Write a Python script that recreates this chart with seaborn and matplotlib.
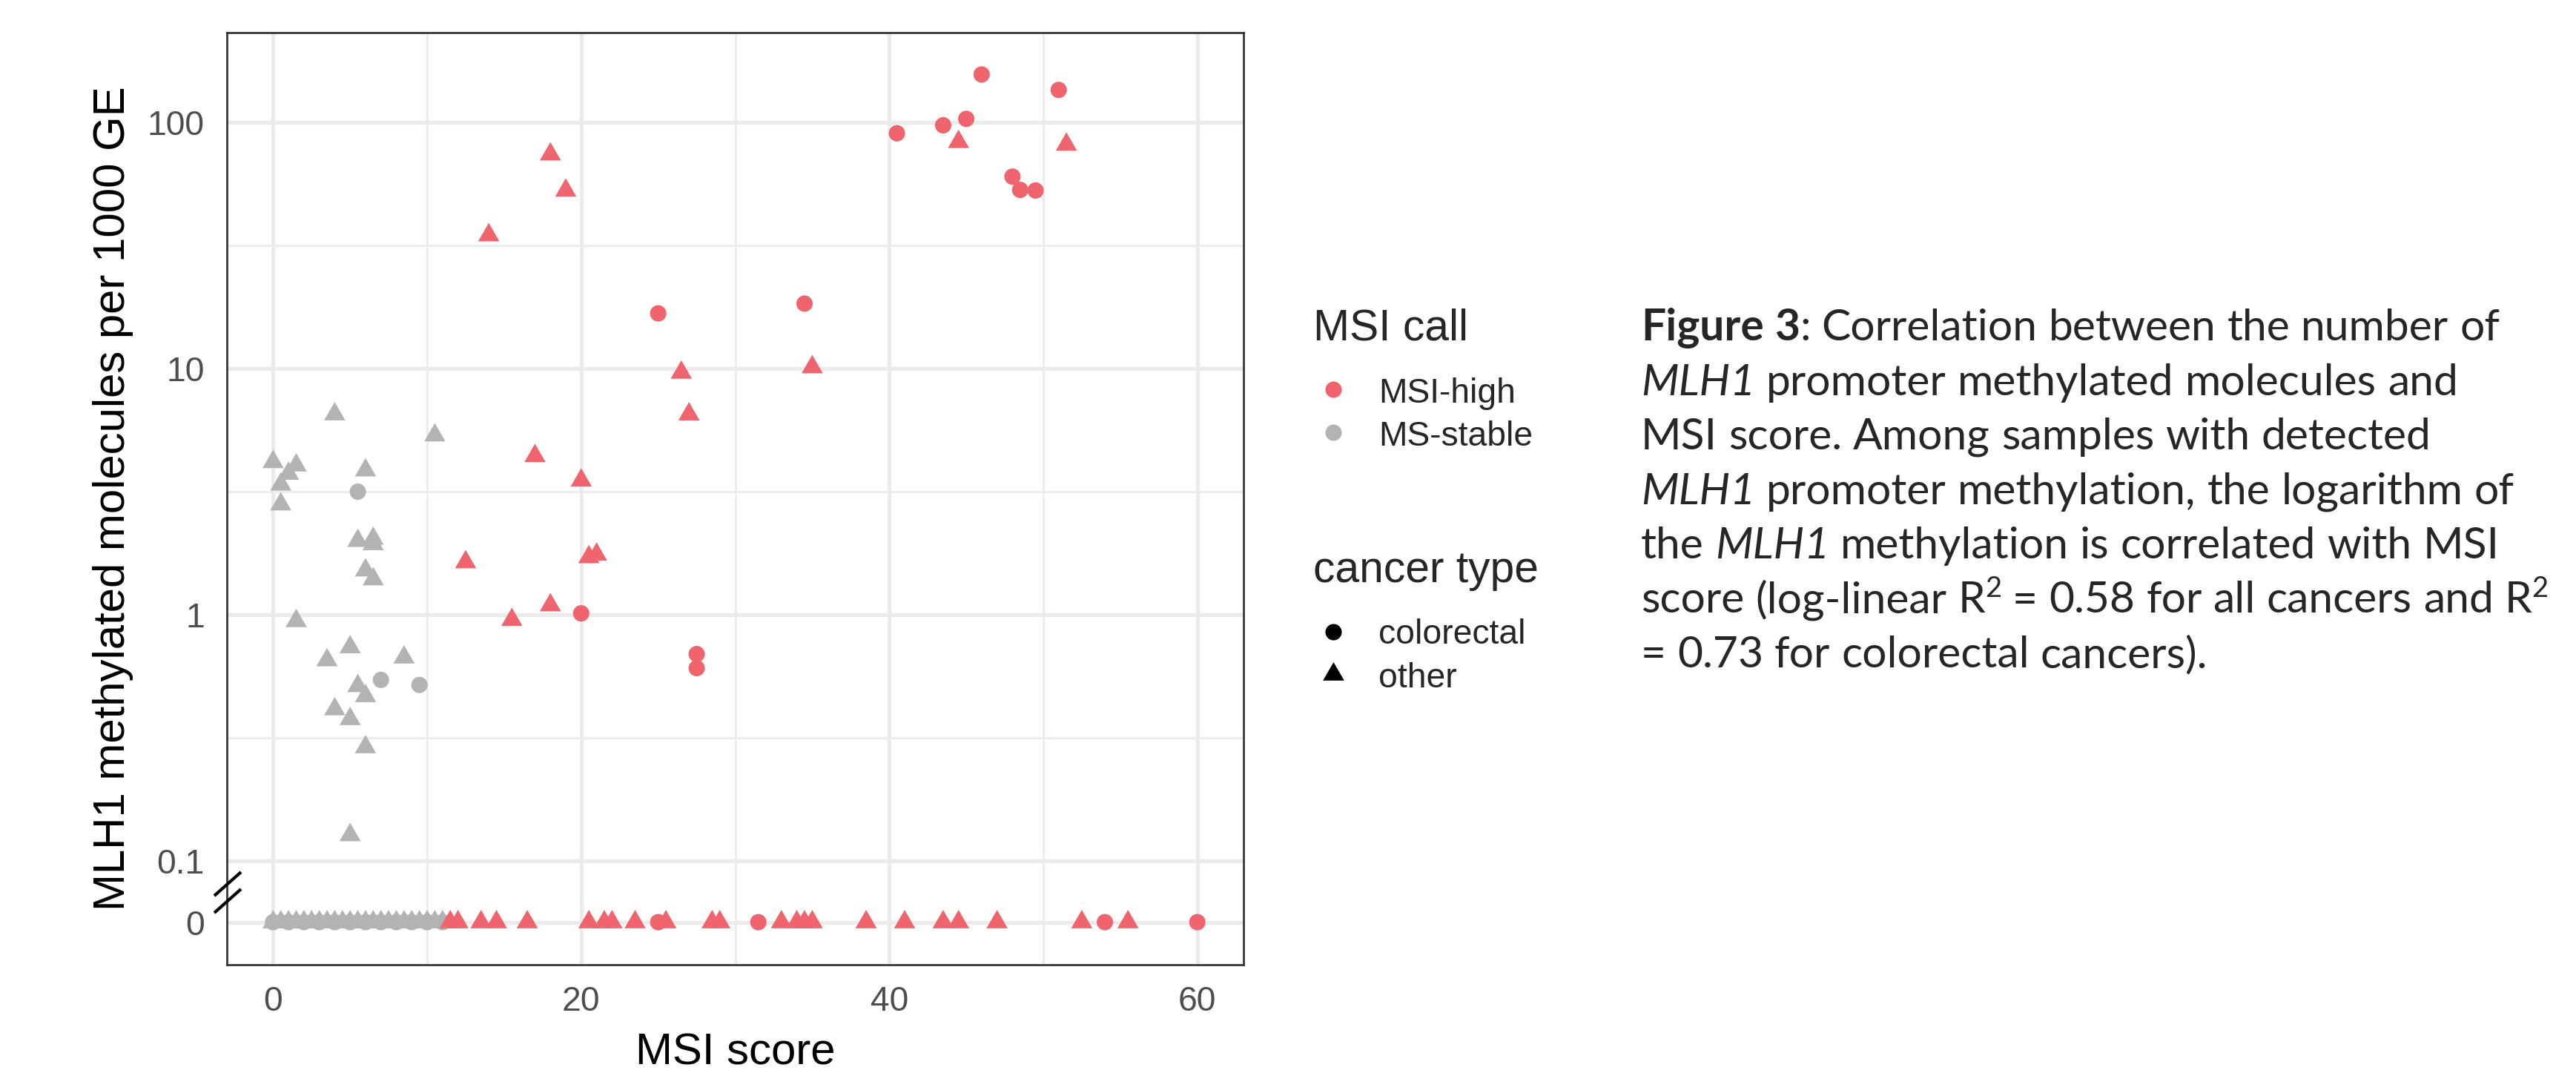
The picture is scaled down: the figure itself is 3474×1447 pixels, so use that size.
import numpy as np
import pandas as pd
import matplotlib
matplotlib.use("Agg")
import matplotlib.pyplot as plt
from matplotlib.path import Path
from matplotlib.lines import Line2D
from matplotlib.ticker import FixedLocator, NullFormatter
import seaborn as sns

# ------------------------------------------------------------------ data
# MSI-high samples
hi_crc_msi = [25.0, 20.0, 27.5, 27.5, 46.0, 51.0, 45.0, 43.5, 40.5, 48.0, 48.5, 49.5, 34.5]
hi_crc_meth = [16.7, 1.01, 0.69, 0.605, 156, 135, 103, 97, 90, 60, 53, 52.7, 18.3]
hi_oth_msi = [18.0, 19.0, 14.0, 26.5, 27.0, 17.0, 20.0, 12.5, 20.5, 21.0, 18.0, 15.5, 44.5, 51.5, 35.0]
hi_oth_meth = [73.9, 52.7, 34.7, 9.6, 6.5, 4.4, 3.5, 1.63, 1.71, 1.75, 1.09, 0.95, 83, 81, 10.1]
hi_crc_msi_zero = [25.0, 31.5, 54.0, 60.0]
hi_oth_msi_zero = [11.5, 12.0, 13.5, 14.5, 16.5, 20.5, 21.5, 22.0, 23.5, 25.5, 28.5, 29.0,
                   33.0, 34.0, 34.5, 35.0, 38.5, 41.0, 43.5, 44.5, 47.0, 52.5, 55.5]
# MS-stable samples
ms_crc_msi = [5.5, 7.0, 9.5]
ms_crc_meth = [3.15, 0.542, 0.517]
ms_oth_msi = [4.0, 10.5, 0.0, 1.5, 1.0, 6.0, 0.5, 0.5, 5.5, 6.5, 6.5, 6.0, 6.5, 1.5, 5.0, 3.5,
              8.5, 5.5, 6.0, 4.0, 5.0, 6.0, 5.0]
ms_oth_meth = [6.5, 5.34, 4.16, 4.03, 3.73, 3.85, 3.37, 2.80, 1.99, 2.03, 1.93, 1.51, 1.39, 0.94,
               0.736, 0.652, 0.669, 0.512, 0.466, 0.412, 0.376, 0.289, 0.127]
ms_crc_msi_zero = [0.0, 1.0, 2.0, 3.0, 4.0, 5.0, 6.0, 7.0, 8.0, 9.0, 10.0, 11.0]
ms_oth_msi_zero = [0.0, 0.5, 1.0, 1.5, 2.0, 2.5, 3.0, 3.5, 4.0, 4.5, 5.0, 5.5, 6.0, 6.5, 7.0,
                   7.5, 8.0, 8.5, 9.0, 9.5, 10.0, 10.5, 11.0]

calls = ["MSI-high", "MS-stable"]
ctypes = ["colorectal", "other"]
y_tick_values = [0, 0.1, 1, 10, 100]
y_tick_labels = ["0", "0.1", "1", "10", "100"]
x_tick_values = [0, 20, 40, 60]


def block(msi, meth, call, ctype):
    return pd.DataFrame({"msi": msi, "meth": meth, "call": call, "ctype": ctype})


df = pd.concat([
    block(ms_oth_msi_zero, [0] * len(ms_oth_msi_zero), "MS-stable", "other"),
    block(ms_crc_msi_zero, [0] * len(ms_crc_msi_zero), "MS-stable", "colorectal"),
    block(ms_oth_msi, ms_oth_meth, "MS-stable", "other"),
    block(ms_crc_msi, ms_crc_meth, "MS-stable", "colorectal"),
    block(hi_oth_msi_zero, [0] * len(hi_oth_msi_zero), "MSI-high", "other"),
    block(hi_crc_msi_zero, [0] * len(hi_crc_msi_zero), "MSI-high", "colorectal"),
    block(hi_oth_msi, hi_oth_meth, "MSI-high", "other"),
    block(hi_crc_msi, hi_crc_meth, "MSI-high", "colorectal"),
], ignore_index=True)

# zero values sit below the log range, behind an axis break
ZERO_POS = 10 ** -1.25
df["y_plot"] = np.where(df["meth"] > 0, df["meth"], ZERO_POS)

# ------------------------------------------------------------------ style
sns.set_style("white")
plt.rcParams["font.family"] = ["Liberation Sans", "DejaVu Sans"]

RED = "#EF646D"
GREY = "#B3B3B3"
palette = {"MSI-high": RED, "MS-stable": GREY}
TRI = Path([(0, 1), (-0.866, -0.5), (0.866, -0.5), (0, 1)],
           [Path.MOVETO, Path.LINETO, Path.LINETO, Path.CLOSEPOLY])
markers = {"colorectal": "o", "other": TRI}
sizes = {"colorectal": 28, "other": 63}

W, H, DPI = 3474, 1447, 300
fig = plt.figure(figsize=(W / DPI, H / DPI), dpi=DPI)
fig.patch.set_facecolor("white")

PL, PR, PT, PB = 306, 1677, 44, 1301
ax = fig.add_axes([PL / W, 1 - PB / H, (PR - PL) / W, (PB - PT) / H])

sns.scatterplot(data=df, x="msi", y="y_plot", hue="call", style="ctype", size="ctype",
                hue_order=calls, style_order=ctypes, size_order=ctypes,
                palette=palette, markers=markers, sizes=sizes,
                linewidth=0, edgecolor="none", alpha=1, legend=False, ax=ax, zorder=3)

ax.set_yscale("log")
ax.set_xlim(-3, 63)
ax.set_ylim(10 ** -1.423, 10 ** 2.363)

ytick_pos = [ZERO_POS if v == 0 else v for v in y_tick_values]
ax.yaxis.set_major_locator(FixedLocator(ytick_pos))
ax.set_yticklabels(y_tick_labels)
ax.yaxis.set_minor_locator(FixedLocator([10 ** -0.5, 10 ** 0.5, 10 ** 1.5]))
ax.yaxis.set_minor_formatter(NullFormatter())
ax.xaxis.set_major_locator(FixedLocator(x_tick_values))
ax.xaxis.set_minor_locator(FixedLocator([10, 30, 50]))
ax.set_xticklabels([str(v) for v in x_tick_values])

ax.set_axisbelow(True)
ax.grid(which="major", color="#EBEBEB", linewidth=1.25)
ax.grid(which="minor", color="#EBEBEB", linewidth=0.65)
for s in ax.spines.values():
    s.set_color("#333333")
    s.set_linewidth(0.65)
ax.tick_params(which="minor", length=0)
ax.tick_params(which="major", direction="out", length=3.84, width=1.2, color="#333333",
               labelsize=11.1, labelcolor="#4D4D4D")
ax.tick_params(axis="x", which="major", pad=2.9)
ax.tick_params(axis="y", which="major", pad=3.4)

ax.set_xlabel("MSI score", fontsize=14.4, color="black")
ax.xaxis.label.set_va("baseline")
ax.xaxis.set_label_coords(0.5, (PB - 1435) / (PB - PT))
ax.set_ylabel("MLH1 methylated molecules per 1000 GE", fontsize=14.4, color="black",
              rotation=90, rotation_mode="anchor", va="baseline", ha="center")
ax.yaxis.set_label_coords((168 - PL) / (PR - PL), 0.5)

# axis break marks
def px2ax(xp, yp):
    return (xp - PL) / (PR - PL), 1 - (yp - PT) / (PB - PT)

for (x0, y0, x1, y1) in [(289, 1208, 325, 1176), (289, 1231, 325, 1199)]:
    a0 = px2ax(x0, y0)
    a1 = px2ax(x1, y1)
    ax.plot([a0[0], a1[0]], [a0[1], a1[1]], transform=ax.transAxes, color="black",
            lw=1.0, clip_on=False, zorder=5, solid_capstyle="butt")

# ------------------------------------------------------------------ legend
def fx(xp):
    return xp / W


def fy(yp):
    return 1 - yp / H


fig.text(fx(1771), fy(459), "MSI call", fontsize=14.1, va="baseline", ha="left")
for yk, yt, lab in [(525, 543, "MSI-high"), (583, 601, "MS-stable")]:
    fig.add_artist(Line2D([fx(1798)], [fy(yk)], transform=fig.transFigure, marker="o",
                          markersize=5.28, markerfacecolor=palette[lab], markeredgewidth=0,
                          linestyle="none"))
    fig.text(fx(1859), fy(yt), lab, fontsize=11.1, va="baseline", ha="left")

fig.text(fx(1771), fy(785), "cancer type", fontsize=14.1, va="baseline", ha="left")
for yk, yt, lab in [(852, 868, "colorectal"), (909, 927, "other")]:
    fig.add_artist(Line2D([fx(1798)], [fy(yk)], transform=fig.transFigure,
                          marker=markers[lab], markersize=np.sqrt(sizes[lab]),
                          markerfacecolor="black", markeredgewidth=0, linestyle="none"))
    fig.text(fx(1859), fy(yt), lab, fontsize=11.1, va="baseline", ha="left")

# ------------------------------------------------------------------ caption
CAPTION = [
    [("Figure 3", "bold"), (": Correlation between the number of", "normal")],
    [("MLH1", "italic"), (" promoter methylated molecules and", "normal")],
    [("MSI score. Among samples with detected", "normal")],
    [("MLH1", "italic"), (" promoter methylation, the logarithm of", "normal")],
    [("the ", "normal"), ("MLH1", "italic"), (" methylation is correlated with MSI", "normal")],
    [("score (log-linear R", "normal"), ("2", "sup"),
     (" = 0.58 for all cancers and R", "normal"), ("2", "sup")],
    [("= 0.73 for colorectal cancers).", "normal")],
]
TARGET_W = [1161, 1111, 1066, 1187, 1153, 1208, 760]
CAP_X, CAP_Y0, CAP_DY = 2213, 459, 73.5
CAP_FONT = ["Lato", "DejaVu Sans"]

renderer = fig.canvas.get_renderer()


def style_kw(style):
    if style == "bold":
        return dict(fontweight="bold")
    if style == "italic":
        return dict(fontstyle="italic")
    return {}


def measure(s, size, style):
    t = fig.text(0, 0, s, fontsize=size, family=CAP_FONT, **style_kw(style))
    w = t.get_window_extent(renderer).width
    t.remove()
    return w


def layout_caption(size):
    texts = []
    widths = []
    gap = {}
    bear = {}
    for st in ("normal", "bold", "italic", "sup"):
        sz = size * 0.65 if st == "sup" else size
        wa = measure("a", sz, st)
        gap[st] = measure("a a", sz, st) - 2 * wa
        bear[st] = measure("aa", sz, st) - 2 * wa
    px_per_pt = DPI / 72.0
    for i, line in enumerate(CAPTION):
        x = CAP_X
        y = CAP_Y0 + i * CAP_DY
        for k, (seg, st) in enumerate(line):
            words = seg.split(" ")
            if k > 0 and not seg.startswith(" "):
                x += bear[st]
            sz = size * 0.65 if st == "sup" else size
            yy = y - (0.36 * size * px_per_pt if st == "sup" else 0)
            for j, wd in enumerate(words):
                if j > 0:
                    x += gap[st]
                if wd == "":
                    continue
                t = fig.text(fx(x), fy(yy), wd, fontsize=sz, family=CAP_FONT,
                             va="baseline", ha="left", **style_kw(st))
                x += t.get_window_extent(renderer).width
                texts.append(t)
        widths.append(x - CAP_X)
    return texts, widths


texts, widths = layout_caption(12.0)
scale = sum(TARGET_W) / sum(widths)
for t in texts:
    t.remove()
texts, widths = layout_caption(12.0 * scale)

fig.savefig("out.png", dpi=DPI, facecolor="white")
